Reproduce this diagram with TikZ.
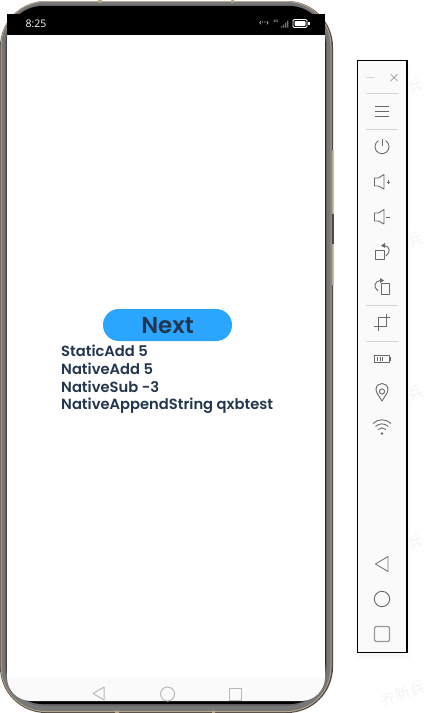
\documentclass[tikz,border=0pt]{standalone}
\usepackage{fontspec}
\setmainfont{Lato}
\newfontfamily\cjk{Noto Sans CJK SC}
\newfontfamily\uifont{Open Sans}
\newfontfamily\appfont{Poppins SemiBold}
\definecolor{inktext}{HTML}{22364F}
\definecolor{btn}{HTML}{2BA6FF}
\definecolor{icon}{HTML}{6A6A6A}
\definecolor{sep}{HTML}{D2D2D2}
\definecolor{rimgrey}{HTML}{777777}
\definecolor{rimdark}{HTML}{4E4840}
\definecolor{tanedge}{HTML}{BBA68F}
\definecolor{wm}{HTML}{F4F4F4}
\tikzset{
  ico/.style={draw=icon,line width=0.9pt,line join=round},
  lbl/.style={font=\appfont\fontsize{14.7}{14.7}\selectfont,text=inktext,anchor=west,inner sep=0pt},
  navico/.style={draw=black!28,line width=1pt},
  wmark/.style={font=\cjk\fontsize{15}{15}\selectfont,text=wm,rotate=20,inner sep=0pt},
  seprule/.style={draw=sep,line width=0.8pt},
}
\begin{document}
\begin{tikzpicture}[x=1pt,y=-1pt]
\useasboundingbox (0,0) rectangle (431,713);
\fill[white] (0,0) rectangle (431,713);
% watermarks
\node[wmark] (w1) at (416,87) {兵};
\node[wmark] (w2) at (416,240) {兵};
\node[wmark] (w3) at (416,393) {兵};
\node[wmark] (w4) at (416,543) {兵};
\node[wmark] (w5) at (403,694) {齐新兵};
% phone body
\fill[rimdark,rounded corners=46] (0,1) rectangle (333,713);
\fill[tanedge,rounded corners=45] (0.7,1) rectangle (331.5,712);
\fill[rimgrey,rounded corners=44] (1.5,2) rectangle (330.5,711);
\fill[black!60,rounded corners=40] (4.5,4.5) rectangle (327,706);
\fill[black,rounded corners=36] (6.5,6) rectangle (325.5,704);
% screen
\fill[black!2,rounded corners=24] (7,640) rectangle (325,701);
\fill[white] (7,30) rectangle (325,677);
\fill[black] (7,14) rectangle (325,35);
% side keys
\fill[tanedge] (98,0) rectangle (102,2.5) (231,0) rectangle (234,2.5);
\fill[tanedge] (115,710.5) rectangle (119,713) (212,710.5) rectangle (215,713);
\fill[tanedge] (332,150) rectangle (333.5,214) (332,244) rectangle (333.5,285);
\fill[rimdark] (331.5,214) rectangle (334,244);
% status bar
\node[font=\uifont\fontsize{10.5}{10.5}\selectfont,text=white,inner sep=0pt] (clock) at (36,23.5) {8:25};
\node[font=\uifont\fontsize{8.5}{8.5}\selectfont,text=white,inner sep=0pt] (net) at (264,23.5) {‹··›};
\node[font=\uifont\fontsize{3.5}{3.5}\selectfont,text=white!80,inner sep=0pt] (sig) at (276,21) {4G};
\fill[black!55] (281,27.5) rectangle +(1.3,-1.5) (283,27.5) rectangle +(1.3,-3) (285,27.5) rectangle +(1.3,-5) (287,27.5) rectangle +(1.3,-7);
\draw[white,line width=0.8pt,rounded corners=1.2] (293,19.5) rectangle (307,27.5);
\fill[white,rounded corners=0.8] (294.5,21) rectangle (305.5,26);
\fill[white] (308,22) rectangle (309.5,25);
% app content
\node[fill=btn,rounded corners=15.9,minimum width=129,minimum height=32,inner sep=0pt] (next) at (167.5,325) {};
\node[font=\appfont\fontsize{23}{23}\selectfont,text=inktext,inner sep=0pt] (nextl) at (167.5,325.5) {Next};
\node[lbl] (a) at (61,351) {StaticAdd 5};
\node[lbl] (b) at (61,369) {NativeAdd 5};
\node[lbl] (c) at (61,387) {NativeSub -3};
\node[lbl] (d) at (61,405.5) {NativeAppendString qxbtest};
% nav bar
\draw[navico,line join=round] (104,687) -- (93,693.5) -- (104,700) -- cycle;
\draw[navico] (167.5,694) circle (7);
\draw[navico] (229.5,688) rectangle (241.5,700);
% toolbar shadow
\foreach \g/\w in {1/10,2/7,3/4}{
  \draw[black!\g,line width=\w] (361,66) rectangle (405,654);
}
\fill[black!2] (358,61) rectangle (407,653);
\draw[black,line width=1.6pt] (357.5,60.5) rectangle (407,652.5);
% toolbar icons
\draw[draw=sep,line width=1pt] (366,77) -- (374,77);
\draw[draw=icon!70,line width=0.7pt] (390.5,74) -- (397.5,81) (397.5,74) -- (390.5,81);
\draw[seprule] (366,93.5) -- (398,93.5);
\draw[ico] (375,106) -- (389,106) (375,111) -- (389,111) (375,116) -- (389,116);
\draw[seprule] (366,129.5) -- (398,129.5);
\draw[ico] (385.5,140.6) arc[start angle=-60,end angle=240,radius=7];
\draw[ico] (382,138.5) -- (382,146);
% vol +
\draw[ico] (374.5,178) -- (378.5,178) -- (384,174.5) -- (384,189) -- (378.5,186) -- (374.5,186) -- cycle;
\draw[ico] (386.5,182) -- (390,182) (388.2,180.2) -- (388.2,183.8);
% vol -
\draw[ico] (374.5,213) -- (378.5,213) -- (384,209.5) -- (384,224) -- (378.5,221) -- (374.5,221) -- cycle;
\draw[ico] (386,217) -- (390,217);
% rotate right
\draw[ico] (375,250) rectangle (384,259);
\draw[ico] (386,256) .. controls (391,252) and (390,246) .. (384,245.5);
\fill[icon] (381,245.5) -- (385,243) -- (385,248) -- cycle;
% rotate left
\draw[ico] (381,283.5) rectangle (389.5,294);
\draw[ico] (378,291) .. controls (373,287) and (374,281) .. (381,280.5);
\fill[icon] (384,280.5) -- (380,278) -- (380,283) -- cycle;
\draw[seprule] (366,305.5) -- (398,305.5);
% crop
\draw[ico] (378,317) rectangle (386,326);
\draw[ico] (386,317) -- (390,317) (378,326) -- (378,331) (378,326) -- (374,326) (386,317) -- (386,314);
\draw[seprule] (366,341) -- (398,341);
% battery
\draw[ico] (374.5,355) rectangle (389,362);
\draw[icon,line width=1pt] (377.5,356.5) -- (377.5,360.5) (380,356.5) -- (380,360.5) (382.5,356.5) -- (382.5,360.5);
\draw[icon,line width=1pt] (390.5,357) -- (390.5,360.5);
% location
\draw[ico] (382,401) .. controls (379,396) and (376,392.5) .. (376,389.5) .. controls (376,381.5) and (388,381.5) .. (388,389.5) .. controls (388,392.5) and (385,396) .. (382,401) -- cycle;
\draw[ico] (382,391.5) circle (2.6);
% wifi
\fill[icon] (382,433.5) circle (1.4);
\draw[ico] (378,429.5) arc[start angle=225,end angle=315,radius=5.6];
\draw[ico] (375.5,426.5) arc[start angle=225,end angle=315,radius=9];
\draw[ico] (373,423.5) arc[start angle=225,end angle=315,radius=12.7];
% nav
\draw[ico,draw=icon!90] (388,556.5) -- (375.5,564) -- (388,571.5) -- cycle;
\draw[ico] (382,599) circle (7.7);
\draw[ico,draw=black!40,line width=1.2pt,rounded corners=1.5] (374.5,626.5) rectangle (389.5,641.5);
\end{tikzpicture}
\end{document}
